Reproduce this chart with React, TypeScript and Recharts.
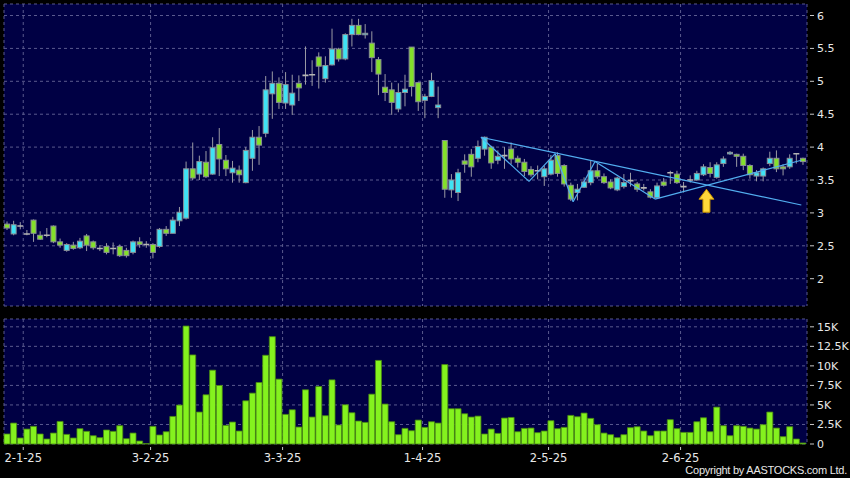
import React from 'react';
import { ComposedChart, Bar, XAxis, YAxis, CartesianGrid, ReferenceLine, ReferenceDot } from 'recharts';

// daily prices, Dec 30 2024 -> Jun 27 2025 (trading days)
const openP = [
  2.83, 2.68, 2.80, 2.68, 2.89, 2.66, 2.66, 2.80, 2.56, 2.43, 2.51, 2.47, 2.65, 2.56, 2.46, 2.49, 2.46, 2.49, 2.43, 2.40,
  2.56, 2.52, 2.52, 2.49, 2.75, 2.69, 2.88, 2.92, 3.67, 3.59, 3.77, 3.59, 4.04, 3.80, 3.61, 3.65, 3.46, 3.83, 4.15, 4.21,
  4.81, 4.97, 4.67, 4.64, 4.97, 5.09, 5.10, 5.37, 5.04, 5.25, 5.49, 5.34, 5.71, 5.85, 5.71, 5.58, 5.33, 4.91, 4.87, 4.58,
  4.83, 5.52, 4.98, 4.71, 4.77, 4.60, 4.10, 3.35, 3.31, 3.79, 3.89, 3.83, 3.97, 4.00, 3.80, 3.87, 3.97, 3.83, 3.77, 3.66,
  3.64, 3.55, 3.59, 3.87, 3.72, 3.42, 3.31, 3.39, 3.46, 3.64, 3.55, 3.47, 3.35, 3.40, 3.49, 3.44, 3.38, 3.32, 3.23, 3.47,
  3.61, 3.59, 3.40, 3.50, 3.50, 3.58, 3.69, 3.54, 3.75, 3.90, 3.89, 3.86, 3.72, 3.56, 3.56, 3.75, 3.83, 3.70, 3.70, 3.90,
  3.83,
];
const highP = [
  2.87, 2.88, 2.86, 2.74, 2.90, 2.72, 2.77, 2.81, 2.61, 2.54, 2.56, 2.62, 2.68, 2.58, 2.51, 2.54, 2.55, 2.52, 2.47, 2.58,
  2.63, 2.57, 2.54, 2.77, 2.80, 2.94, 3.09, 3.78, 4.07, 3.87, 3.94, 4.15, 4.29, 3.88, 3.79, 3.72, 4.00, 4.26, 4.32, 5.08,
  5.15, 5.06, 5.14, 5.10, 5.09, 5.53, 5.32, 5.44, 5.38, 5.80, 5.51, 5.73, 5.95, 5.95, 5.87, 5.76, 5.37, 5.11, 4.98, 4.97,
  5.10, 5.52, 4.99, 4.81, 5.13, 4.92, 4.10, 3.59, 3.67, 3.89, 3.97, 4.10, 4.16, 4.02, 3.95, 4.00, 4.07, 3.87, 3.82, 3.71,
  3.72, 3.72, 3.88, 3.92, 3.74, 3.46, 3.44, 3.54, 3.80, 3.75, 3.60, 3.51, 3.55, 3.59, 3.61, 3.47, 3.44, 3.36, 3.46, 3.53,
  3.64, 3.64, 3.47, 3.57, 3.64, 3.74, 3.77, 3.77, 3.86, 3.94, 3.90, 3.90, 3.74, 3.65, 3.69, 3.93, 3.95, 3.74, 3.89, 3.91,
  3.84,
];
const lowP = [
  2.74, 2.66, 2.75, 2.66, 2.56, 2.59, 2.63, 2.54, 2.47, 2.41, 2.44, 2.45, 2.42, 2.44, 2.42, 2.37, 2.37, 2.33, 2.32, 2.37,
  2.47, 2.47, 2.31, 2.47, 2.65, 2.69, 2.80, 2.90, 3.50, 3.50, 3.53, 3.58, 3.56, 3.56, 3.46, 3.46, 3.45, 3.64, 3.73, 4.15,
  4.43, 4.58, 4.58, 4.49, 4.70, 4.95, 4.93, 4.89, 4.98, 5.24, 5.30, 5.32, 5.53, 5.70, 5.65, 5.14, 4.79, 4.70, 4.49, 4.53,
  4.62, 4.77, 4.55, 4.44, 4.76, 4.44, 3.23, 3.23, 3.18, 3.61, 3.55, 3.77, 3.87, 3.67, 3.74, 3.67, 3.74, 3.69, 3.56, 3.55,
  3.51, 3.41, 3.57, 3.55, 3.40, 3.18, 3.19, 3.38, 3.42, 3.52, 3.44, 3.36, 3.33, 3.37, 3.40, 3.32, 3.34, 3.22, 3.22, 3.40,
  3.44, 3.44, 3.31, 3.46, 3.49, 3.56, 3.54, 3.52, 3.70, 3.88, 3.70, 3.65, 3.52, 3.48, 3.48, 3.71, 3.62, 3.57, 3.67, 3.75,
  3.73,
];
const closeP = [
  2.77, 2.82, 2.80, 2.68, 2.69, 2.60, 2.66, 2.56, 2.51, 2.52, 2.46, 2.57, 2.51, 2.47, 2.46, 2.40, 2.46, 2.35, 2.35, 2.56,
  2.52, 2.52, 2.40, 2.75, 2.69, 2.89, 3.01, 3.67, 3.53, 3.78, 3.55, 3.99, 3.82, 3.67, 3.68, 3.58, 3.95, 4.15, 4.03, 4.87,
  4.97, 4.68, 4.95, 4.82, 4.90, 5.09, 5.10, 5.23, 5.24, 5.49, 5.34, 5.71, 5.85, 5.71, 5.73, 5.36, 5.11, 4.83, 4.68, 4.83,
  4.88, 4.92, 4.69, 4.77, 5.01, 4.64, 3.36, 3.50, 3.61, 3.74, 3.70, 4.01, 4.15, 3.76, 3.86, 3.87, 3.82, 3.77, 3.63, 3.58,
  3.64, 3.67, 3.80, 3.60, 3.44, 3.21, 3.36, 3.47, 3.64, 3.55, 3.46, 3.38, 3.53, 3.46, 3.49, 3.36, 3.38, 3.24, 3.41, 3.42,
  3.61, 3.46, 3.40, 3.50, 3.60, 3.70, 3.60, 3.73, 3.82, 3.92, 3.86, 3.72, 3.58, 3.61, 3.67, 3.83, 3.67, 3.67, 3.83, 3.90,
  3.78,
];
const volume = [
  1280, 2680, 770, 1910, 2260, 1280, 640, 1400, 2890, 1230, 770, 1960, 1620, 1060, 810, 1790, 1620, 2340, 680, 1400,
  380, 50, 2260, 1150, 1570, 3530, 4980, 15100, 11400, 4090, 6300, 9450, 7490, 2380, 2810, 1660, 5530, 6510, 7870, 11360,
  13740, 8300, 3790, 4380, 2170, 6940, 3450, 7360, 3620, 8210, 2430, 5020, 4000, 2940, 2770, 6380, 10700, 5110, 2850, 1190,
  2000, 1700, 3060, 2130, 2850, 2680, 10170, 4510, 4510, 3870, 3450, 3570, 1280, 1910, 1360, 3320, 3400, 1570, 2000, 2040,
  1450, 1660, 2980, 1960, 2130, 3660, 3490, 3960, 3280, 2470, 1400, 1190, 810, 1190, 2090, 2210, 1660, 1060, 1660, 1660,
  3110, 1960, 1490, 1490, 2850, 3360, 1570, 4720, 2340, 1060, 2340, 2260, 2040, 1910, 2470, 4090, 2040, 940, 2210, 640,
  130,
];

// month ticks (position on the day index axis) and their labels
const monthTicks = [2.4, 21.6, 41.5, 62.6, 81.6, 101.5];
const monthLabels = ['2-1-25', '3-2-25', '3-3-25', '1-4-25', '2-5-25', '2-6-25'];

const priceTicks = [2, 2.5, 3, 3.5, 4, 4.5, 5, 5.5, 6];
const volTicks = [0, 2500, 5000, 7500, 10000, 12500, 15000];

// drawn trend lines (day index, price)
const zigzagX = [71.4, 78.65, 82.6, 85.3, 88.6, 97.65, 119.7];
const zigzagY = [4.15, 3.48, 3.90, 3.17, 3.78, 3.21, 3.80];
const channelX = [71.4, 119.7];
const channelY = [4.15, 3.12];
const arrowAt = { x: 105.4, y: 3.36 };

const rows = openP.map((o, i) => ({
  i,
  open: o,
  high: highP[i],
  low: lowP[i],
  close: closeP[i],
  range: [lowP[i], highP[i]],
  vol: volume[i],
}));

const NAVY = '#000044';
const GRID = '#5a5a8e';
const CYAN = '#3fe2f4';
const GREEN = '#84e02a';
const FONT = 'DejaVu Sans';

const Candle = (props: any) => {
  const { x, y, width, height, payload } = props;
  const top = Math.min(y, y + height);
  const h = Math.abs(height);
  const k = h / (payload.high - payload.low);
  const py = (v: number) => top + (payload.high - v) * k;
  const cx = x + width / 2;
  const bTop = py(Math.max(payload.open, payload.close));
  const bBot = py(Math.min(payload.open, payload.close));
  const flat = payload.open === payload.close;
  return (
    <g>
      <line x1={cx} x2={cx} y1={top} y2={top + h} stroke="#9a9aa4" strokeWidth={1} />
      {flat ? (
        <line x1={x} x2={x + width} y1={bTop} y2={bTop} stroke="#b4b4b4" strokeWidth={1.6} />
      ) : (
        <rect
          x={x + 0.5}
          y={bTop}
          width={width - 1}
          height={Math.max(1.5, bBot - bTop)}
          fill={payload.close > payload.open ? CYAN : GREEN}
          stroke="#8a8e96"
          strokeWidth={1}
        />
      )}
    </g>
  );
};

const RightTick = ({ x, y, payload, fmt }: any) => (
  <g>
    <line x1={x + 3} x2={x + 7} y1={y} y2={y} stroke="#c8c8c8" />
    <text x={x + 10} y={y + 4} fill="#e8e8e8" fontSize={11} fontFamily={FONT}>
      {fmt ? fmt(payload.value) : payload.value}
    </text>
  </g>
);

const DateTick = ({ x, y, payload }: any) => {
  const idx = monthTicks.indexOf(payload.value);
  return (
    <g>
      <line x1={x} x2={x} y1={y + 3} y2={y + 6} stroke="#c8c8c8" />
      <text x={x} y={y + 18} textAnchor="middle" fill="#e8e8e8" fontSize={11.5} fontFamily={FONT}>
        {monthLabels[idx]}
      </text>
    </g>
  );
};

const Arrow = (props: any) => {
  const { cx, cy } = props;
  const d = `M${cx},${cy} L${cx + 7.5},${cy + 10} L${cx + 3.5},${cy + 10} L${cx + 3.5},${cy + 23} L${cx - 3.5},${cy + 23} L${cx - 3.5},${cy + 10} L${cx - 7.5},${cy + 10} Z`;
  return <path d={d} fill="#ffd83a" stroke="#c99400" strokeWidth={1} />;
};

const volFmt = (v: number) => (v === 0 ? '0' : `${v / 1000}K`);

export default function App() {
  const zigSegs = zigzagX.slice(1).map((x, n) => [
    { x: zigzagX[n], y: zigzagY[n] },
    { x, y: zigzagY[n + 1] },
  ]);
  return (
    <div style={{ position: 'fixed', left: 0, top: 0, width: 850, height: 478, background: '#000', overflow: 'hidden' }}>
      <div style={{ position: 'absolute', left: 0, top: 0 }}>
        <ComposedChart width={850} height={310} data={rows} margin={{ top: 4, right: 0, bottom: 4, left: 4 }}>
          <CartesianGrid fill={NAVY} fillOpacity={1} stroke={GRID} strokeDasharray="3 3" />
          <XAxis dataKey="i" type="number" domain={[-0.5, 120.56]} ticks={monthTicks} interval={0} hide />
          <YAxis
            orientation="right"
            width={43}
            domain={[1.585, 6.175]}
            ticks={priceTicks}
            interval={0}
            axisLine={false}
            tickLine={false}
            tickSize={0}
            tickMargin={0}
            tick={<RightTick />}
            allowDataOverflow
          />
          <Bar dataKey="range" barSize={6} shape={<Candle />} isAnimationActive={false} />
          <ReferenceLine
            segment={[{ x: channelX[0], y: channelY[0] }, { x: channelX[1], y: channelY[1] }]}
            stroke="#52aef0"
            strokeWidth={1.2}
          />
          {zigSegs.map((s, n) => (
            <ReferenceLine key={n} segment={s} stroke="#52aef0" strokeWidth={1.2} />
          ))}
          <ReferenceDot x={arrowAt.x} y={arrowAt.y} r={1} shape={<Arrow />} />
        </ComposedChart>
      </div>
      <div style={{ position: 'absolute', left: 0, top: 312 }}>
        <ComposedChart width={850} height={166} data={rows} margin={{ top: 7, right: 0, bottom: 0, left: 4 }}>
          <CartesianGrid fill={NAVY} fillOpacity={1} stroke={GRID} strokeDasharray="3 3" />
          <XAxis
            dataKey="i"
            type="number"
            domain={[-0.5, 120.56]}
            ticks={monthTicks}
            interval={0}
            height={34}
            axisLine={false}
            tickLine={false}
            tickSize={0}
            tickMargin={0}
            tick={<DateTick />}
          />
          <YAxis
            orientation="right"
            width={43}
            domain={[0, 16000]}
            ticks={volTicks}
            interval={0}
            axisLine={false}
            tickLine={false}
            tickSize={0}
            tickMargin={0}
            tick={<RightTick fmt={volFmt} />}
          />
          <Bar dataKey="vol" barSize={6} fill="#84f21e" stroke="#4a8a12" strokeWidth={0.8} isAnimationActive={false} />
        </ComposedChart>
      </div>
      <div
        style={{
          position: 'absolute',
          right: 3,
          top: 464,
          color: '#e8e8e8',
          fontFamily: 'Liberation Sans',
          fontSize: 11,
          letterSpacing: '-0.25px',
          lineHeight: '13px',
        }}
      >
        Copyright by AASTOCKS.com Ltd.
      </div>
    </div>
  );
}
